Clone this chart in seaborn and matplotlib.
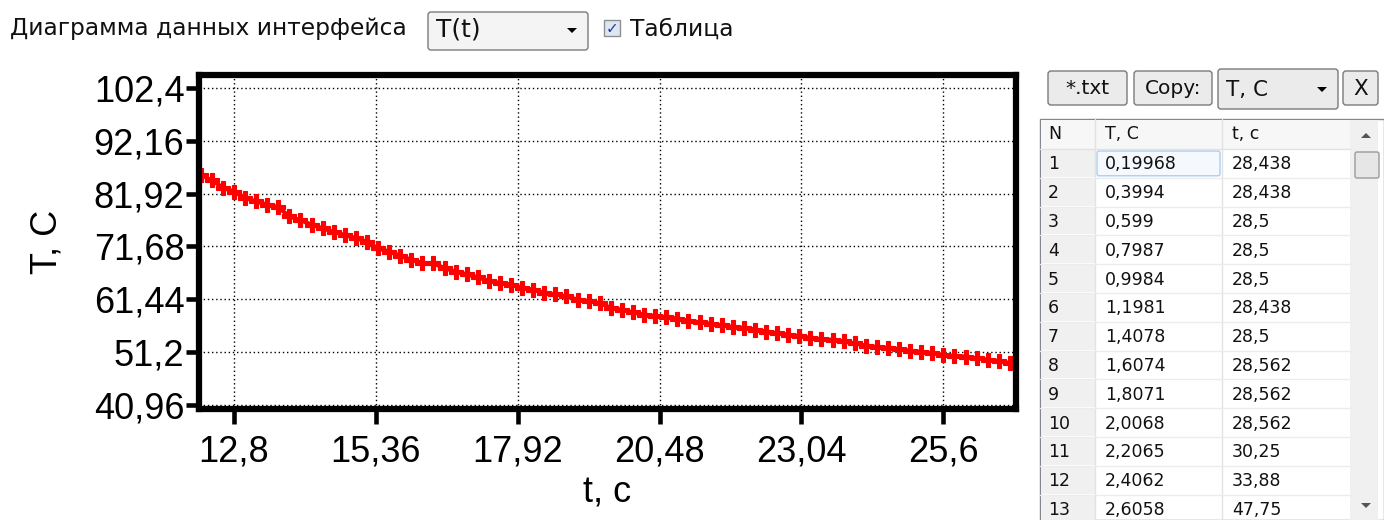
import matplotlib
matplotlib.use("Agg")
import matplotlib.pyplot as plt
import seaborn as sns
from matplotlib.patches import Rectangle, FancyBboxPatch, Polygon

# data
time_s = [12.2, 12.4, 12.6, 12.8, 13.0, 13.2, 13.4, 13.6, 13.8, 14.0,
          14.2, 14.4, 14.6, 14.8, 15.0, 15.2, 15.4, 15.6, 15.8, 16.0,
          16.2, 16.4, 16.6, 16.8, 17.0, 17.2, 17.4, 17.6, 17.8, 18.0,
          18.2, 18.4, 18.6, 18.8, 19.0, 19.2, 19.4, 19.6, 19.8, 20.0,
          20.2, 20.4, 20.6, 20.8, 21.0, 21.2, 21.4, 21.6, 21.8, 22.0,
          22.2, 22.4, 22.6, 22.8, 23.0, 23.2, 23.4, 23.6, 23.8, 24.0,
          24.2, 24.4, 24.6, 24.8, 25.0, 25.2, 25.4, 25.6, 25.8, 26.0,
          26.2, 26.4, 26.6, 26.8]
temp_c = [85.6, 84.5, 83.1, 82.3, 81.1, 80.4, 79.8, 79.3, 77.5, 76.8,
          75.9, 75.2, 74.5, 73.9, 73.3, 72.6, 71.3, 70.7, 69.9, 69.1,
          68.5, 68.4, 67.5, 66.8, 66.3, 65.7, 65.0, 64.6, 64.3, 63.7,
          63.3, 62.7, 62.4, 62.0, 61.4, 61.1, 60.7, 59.8, 59.4, 58.9,
          58.5, 58.2, 58.0, 57.7, 57.3, 57.0, 56.7, 56.4, 56.1, 55.9,
          55.6, 55.2, 54.9, 54.6, 54.3, 54.0, 53.7, 53.6, 53.3, 52.9,
          52.5, 52.2, 52.05, 51.8, 51.5, 51.25, 51.0, 50.7, 50.5, 50.35,
          50.0, 49.75, 49.5, 49.1]

x_ticks = [12.8, 15.36, 17.92, 20.48, 23.04, 25.6]
x_tick_labels = ["12,8", "15,36", "17,92", "20,48", "23,04", "25,6"]
y_ticks = [40.96, 51.2, 61.44, 71.68, 81.92, 92.16, 102.4]
y_tick_labels = ["40,96", "51,2", "61,44", "71,68", "81,92", "92,16", "102,4"]

# table on the right
table_n = [str(i) for i in range(1, 14)]
table_col1 = ["0,19968", "0,3994", "0,599", "0,7987", "0,9984", "1,1981", "1,4078",
              "1,6074", "1,8071", "2,0068", "2,2065", "2,4062", "2,6058"]
table_col2 = ["28,438", "28,438", "28,5", "28,5", "28,5", "28,438", "28,5",
              "28,562", "28,562", "28,562", "30,25", "33,88", "47,75"]

W, H = 1384, 520
sns.set_style("white")
plt.rcParams['font.family'] = ['Liberation Sans', 'DejaVu Sans']

fig = plt.figure(figsize=(W / 100, H / 100), dpi=100)

# chart axes, placed by pixel box
left, right, top, bottom = 199, 1016, 75, 409
ax = fig.add_axes([left / W, 1 - bottom / H, (right - left) / W, (bottom - top) / H])
sns.lineplot(x=time_s, y=temp_c, ax=ax, color="red", lw=3, marker="P",
             markersize=10, markeredgecolor="red", markeredgewidth=0.8)
ax.set_xlim(12.17, 26.91)
ax.set_ylim(40.2, 104.9)
ax.set_xticks(x_ticks)
ax.set_xticklabels(x_tick_labels)
ax.set_yticks(y_ticks)
ax.set_yticklabels(y_tick_labels)
ax.grid(True, color="black", lw=1.0, linestyle=(0, (1, 2)))
for s in ax.spines.values():
    s.set_linewidth(4.5)
    s.set_color("black")
ax.tick_params(axis="both", direction="out", length=9.5, width=3.3, color="black",
               labelcolor="black", labelsize=26, pad=1, bottom=True, left=True)
ax.tick_params(axis="x", length=11, pad=7)
ax.set_xlabel("t, c", fontsize=26, labelpad=5, color="black")
ax.set_ylabel("T, C", fontsize=26, labelpad=21, color="black")

# interface elements drawn in pixel coordinates
ui = fig.add_axes([0, 0, 1, 1], zorder=-1)
ui.set_xlim(0, W)
ui.set_ylim(H, 0)
ui.axis("off")
ui_font = ['DejaVu Sans']


def button(x0, y0, x1, y1, label, fs=14.5, arrow=False, align="center"):
    ui.add_patch(FancyBboxPatch((x0, y0), x1 - x0, y1 - y0,
                                boxstyle="round,pad=0,rounding_size=3",
                                fc="#ebebeb", ec="#7a7a7a", lw=1.0))
    if align == "center":
        ui.text((x0 + x1) / 2, (y0 + y1) / 2 + 1, label, ha="center", va="center",
                fontsize=fs, family=ui_font, color="#111111")
    else:
        ui.text(x0 + 8, (y0 + y1) / 2 + 1, label, ha="left", va="center",
                fontsize=fs, family=ui_font, color="#111111")
    if arrow:
        ax_ = x1 - 16
        ym = (y0 + y1) / 2
        ui.add_patch(Polygon([[ax_ - 5, ym - 2], [ax_ + 5, ym - 2], [ax_, ym + 3]],
                             closed=True, fc="black", ec="none"))


ui.text(10, 28, "Диаграмма данных интерфейса", ha="left", va="center",
        fontsize=16.8, family=ui_font, color="#111111")
ui.add_patch(FancyBboxPatch((428, 12), 160, 38, boxstyle="round,pad=0,rounding_size=3",
                            fc="#f4f4f4", ec="#7a7a7a", lw=1.0))
ui.text(436, 30, "T(t)", ha="left", va="center", fontsize=18, family=ui_font, color="#111111")
ui.add_patch(Polygon([[567, 28], [577, 28], [572, 33]], closed=True, fc="black", ec="none"))
ui.add_patch(Rectangle((604, 20), 16, 16, fc="#dde6f5", ec="#8e8f8f", lw=1.0))
ui.text(612, 28.5, "✓", ha="center", va="center", fontsize=11, family=ui_font,
        color="#2a3f8f", fontweight="bold")
ui.text(630, 29, "Таблица", ha="left", va="center", fontsize=16.8, family=ui_font,
        color="#111111")

button(1048, 71, 1127, 105, "*.txt")
button(1134, 71, 1212, 105, "Copy:")
button(1218, 69, 1338, 109, "T, C", fs=15.5, arrow=True, align="left")
button(1343, 71, 1378, 105, "X", fs=15.5)

# table
tx0, tx1 = 1040, 1384
cols = [1040, 1095, 1222, 1350]
head_y0, head_y1 = 119, 149
row_h = 28.8
ui.add_patch(Rectangle((tx0, head_y0), tx1 - tx0, H - head_y0, fc="white", ec="#828790", lw=1.0))
ui.add_patch(Rectangle((tx0 + 1, head_y0 + 1), cols[3] - tx0 - 1, head_y1 - head_y0 - 1,
                       fc="#f7f7f7", ec="none"))
for cx in cols[1:3]:
    ui.plot([cx, cx], [head_y0, H], color="#e2e2e2", lw=1.0)
ui.plot([tx0, cols[3]], [head_y1, head_y1], color="#e2e2e2", lw=1.0)
ui.text(cols[0] + 8, 134, "N", ha="left", va="center", fontsize=12.5, family=ui_font, color="#111111")
ui.text(cols[1] + 10, 134, "T, C", ha="left", va="center", fontsize=12.5, family=ui_font, color="#111111")
ui.text(cols[2] + 10, 134, "t, c", ha="left", va="center", fontsize=12.5, family=ui_font, color="#111111")

for i, (n, c1, c2) in enumerate(zip(table_n, table_col1, table_col2)):
    y0 = head_y1 + i * row_h
    yc = y0 + row_h / 2 + 1
    ui.add_patch(Rectangle((tx0 + 1, y0 + 1), cols[1] - tx0 - 1, row_h - 2,
                           fc="#f0f0f0", ec="none"))
    ui.plot([tx0, cols[3]], [y0 + row_h, y0 + row_h], color="#ececec", lw=1.0)
    if i == 0:
        ui.add_patch(FancyBboxPatch((cols[1] + 2, y0 + 2), cols[2] - cols[1] - 4, row_h - 4,
                                    boxstyle="round,pad=0,rounding_size=2",
                                    fc="#f5f9fd", ec="#a9cdf0", lw=1.0))
    ui.text(cols[0] + 8, yc, n, ha="left", va="center", fontsize=12.5, family=ui_font, color="#111111")
    ui.text(cols[1] + 10, yc, c1, ha="left", va="center", fontsize=12.5, family=ui_font, color="#111111")
    ui.text(cols[2] + 10, yc, c2, ha="left", va="center", fontsize=12.5, family=ui_font, color="#111111")

# scrollbar
ui.add_patch(Rectangle((cols[3], head_y0 + 1), tx1 - cols[3] - 6, H - head_y0, fc="#f0f0f0", ec="none"))
ui.add_patch(FancyBboxPatch((1355, 152), 24, 26, boxstyle="round,pad=0,rounding_size=2",
                            fc="#e6e6e6", ec="#9a9a9a", lw=1.0))
ui.add_patch(Polygon([[1361, 138], [1371, 138], [1366, 133]], closed=True, fc="#555555", ec="none"))
ui.add_patch(Polygon([[1361, 503], [1371, 503], [1366, 508]], closed=True, fc="#555555", ec="none"))

fig.savefig("out.png", dpi=100, facecolor="white")
